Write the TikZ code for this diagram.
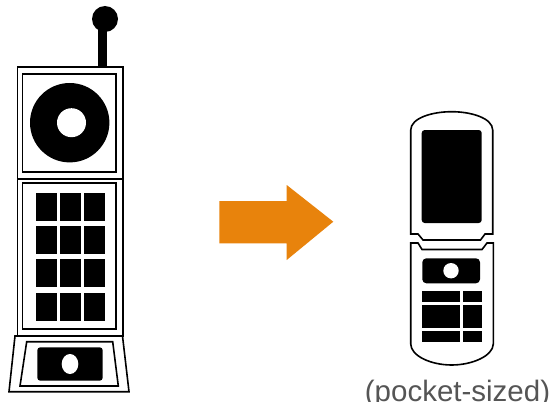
\documentclass[tikz,border=0pt]{standalone}
\usepackage{fontspec}
\setmainfont{Liberation Sans}
\definecolor{arrowor}{HTML}{E8830C}
\definecolor{captiongray}{HTML}{555555}
\tikzset{
  outline/.style={draw=black,line width=1.6pt,fill=white,line join=miter},
  solidpart/.style={fill=black,draw=none},
  keycap/.style={fill=black,draw=none},
  hole/.style={fill=white,draw=none},
}
\begin{document}
\begin{tikzpicture}[x=1pt,y=-1pt]
\path[use as bounding box] (0,0) rectangle (556,401);
\clip (0,0) rectangle (556,401);
% large phone antenna
\fill[solidpart] (98,30) rectangle (107,68);
\fill[solidpart] (105,19) circle (13);
% base
\draw[outline] (15,336) -- (9,391.7) -- (129,391.7) -- (122.5,336) -- cycle;
\draw[outline] (26.7,341.7) -- (20,386) -- (118.3,386) -- (112.7,341.7) -- cycle;
\fill[solidpart,rounded corners=3pt] (37.3,347.3) rectangle (102.7,380.7);
\fill[hole] (70,364) ellipse (8.3 and 10);
% body
\draw[outline] (17.5,67) rectangle (123,336);
\draw[outline] (17.5,179) -- (123,179);
\draw[outline] (22.5,74) rectangle (116,172);
\draw[outline] (22.5,183) rectangle (116,329);
\fill[solidpart] (69.7,122.7) circle (39.7);
\fill[hole] (71.5,122.7) circle (14.5);
\foreach \xa/\xb in {36/57,60/81,84/105}
  \foreach \ya/\yb in {192.5/220.7,225.7/254,259.3/287.3,292.7/320.7}
    \fill[keycap] (\xa,\ya) rectangle (\xb,\yb);
% arrow
\fill[arrowor] (219.3,201) -- (286.7,201) -- (286.7,185) -- (333.3,221.7) -- (286.7,260) -- (286.7,243.3) -- (219.3,243.3) -- cycle;
% flip phone upper
\draw[outline] (410.7,234) -- (410.7,130) .. controls (411,118) and (432,111.7) .. (451.7,111.7)
  .. controls (471,111.7) and (492.5,118) .. (492.7,130) -- (492.7,234) -- (485,234) -- (480.5,240) -- (423,240) -- (418,234) -- cycle;
\fill[solidpart,rounded corners=3pt] (421.7,130) rectangle (481.7,223);
% flip phone lower
\draw[outline] (410.7,243) -- (418,243) -- (422,249.5) -- (482,249.5) -- (487,243) -- (493.3,243) -- (493.3,344)
  .. controls (493,356) and (472,365) .. (451.7,365) .. controls (431,365) and (411,356) .. (410.7,344) -- cycle;
\fill[solidpart,rounded corners=4pt] (422.3,258.3) rectangle (480,283.3);
\fill[hole] (451,270.7) circle (7.7);
\foreach \xa/\xb in {422.3/460.3,463.3/481.7}
  \foreach \ya/\yb in {290.7/301.7,305/328.3,330.7/342.3}
    \fill[keycap] (\xa,\ya) rectangle (\xb,\yb);
% caption
\node[text=captiongray,font=\fontsize{29.5}{32}\selectfont,anchor=base,inner sep=0pt] (caption) at (457.5,401.5) {(pocket-sized)};
\end{tikzpicture}
\end{document}
